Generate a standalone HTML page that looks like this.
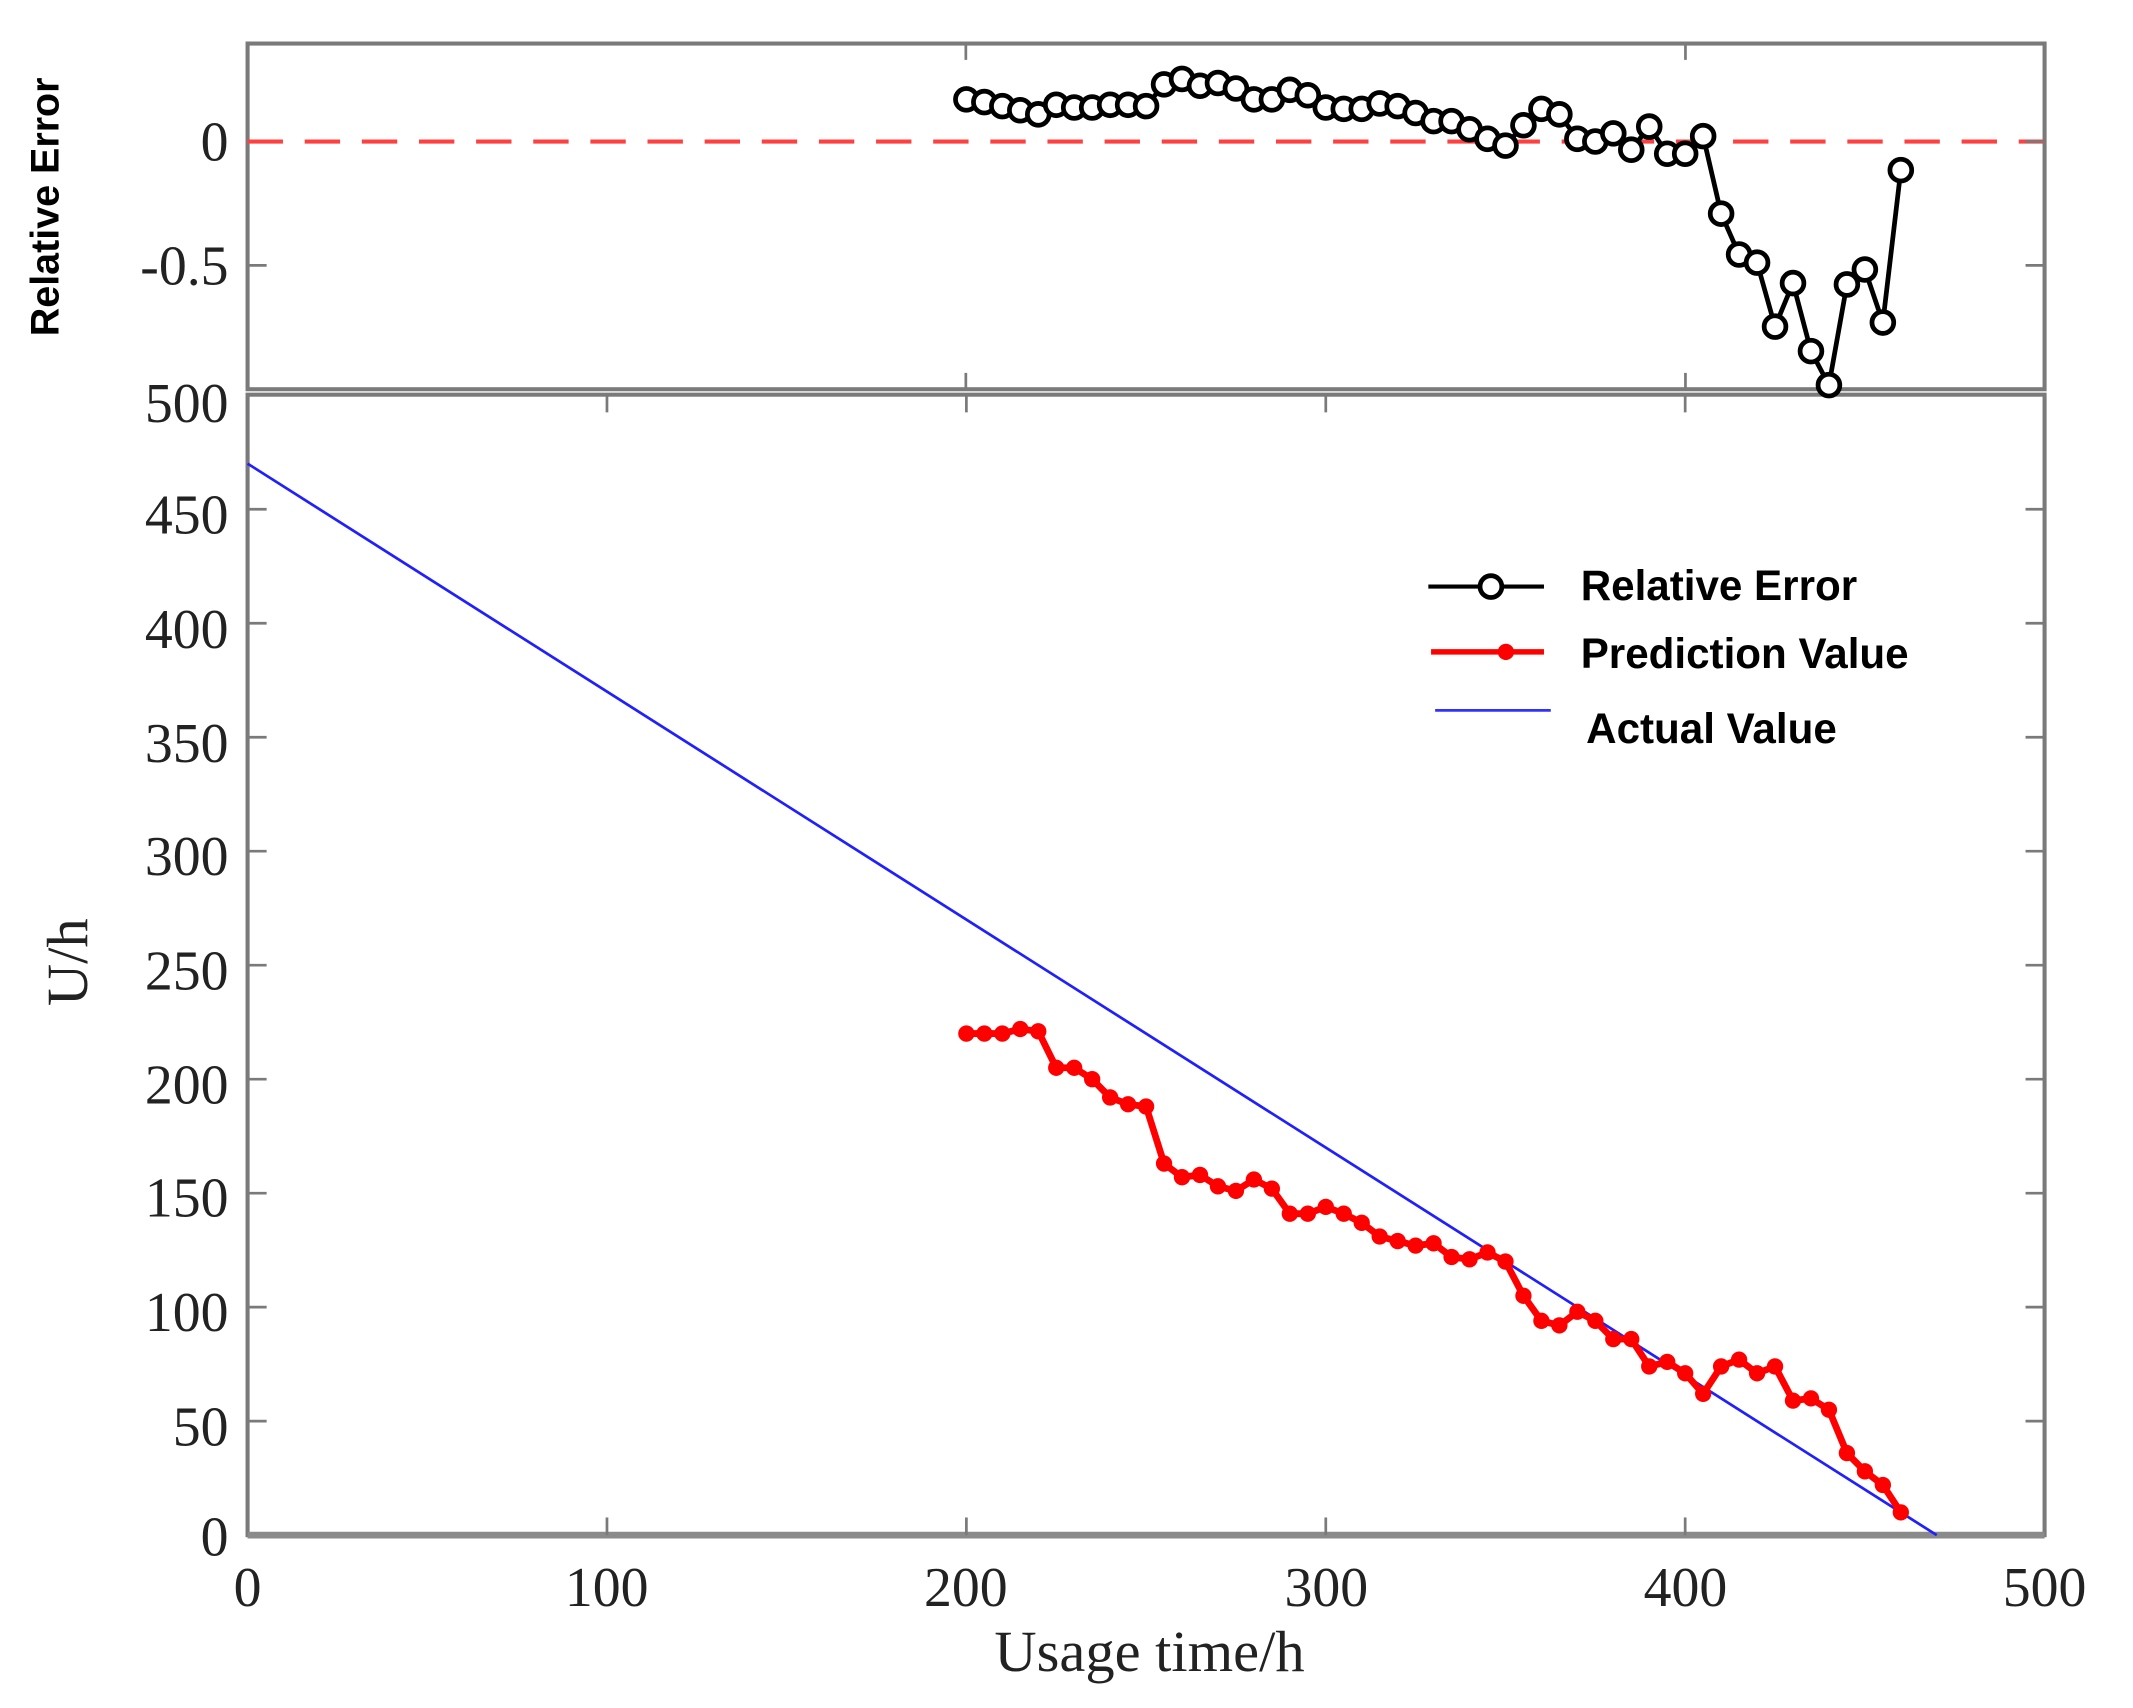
<!DOCTYPE html>
<html><head><meta charset="utf-8"><style>
html,body{margin:0;padding:0;background:#fff;}
svg{display:block;}
.t{font-family:"Liberation Serif",serif;fill:#222;}
.s{font-family:"Liberation Sans",sans-serif;font-weight:bold;fill:#000;}
</style></head><body>
<svg id="c" width="2133" height="1708" viewBox="0 0 1568 1255" preserveAspectRatio="none" xmlns="http://www.w3.org/2000/svg">
<rect width="1568" height="1255" fill="#fff"/>
<rect x="182" y="32" width="1321" height="254" fill="none" stroke="#7a7a7a" stroke-width="3"/>
<line x1="182" y1="104" x2="1503" y2="104" stroke="#ff4040" stroke-width="3" stroke-dasharray="26,16"/>
<g stroke="#7a7a7a" stroke-width="2">
<line x1="182" y1="195" x2="196" y2="195"/><line x1="1489" y1="195" x2="1503" y2="195"/>
<line x1="1489" y1="104" x2="1503" y2="104"/>
<line x1="710" y1="32" x2="710" y2="44"/><line x1="1239" y1="32" x2="1239" y2="44"/>
<line x1="710" y1="274" x2="710" y2="286"/><line x1="1239" y1="274" x2="1239" y2="286"/>
</g>
<rect x="182" y="290" width="1321" height="838" fill="none" stroke="#7a7a7a" stroke-width="3"/>
<line x1="182" y1="1128" x2="1503" y2="1128" stroke="#8a8a8a" stroke-width="5"/>
<g id="ticks" stroke="#7a7a7a" stroke-width="2"></g>
<g class="t" font-size="41" text-anchor="end">
<text x="168" y="118">0</text>
<text x="168" y="209">-0.5</text>
<text x="168" y="310">500</text>
<text x="168" y="392">450</text>
<text x="168" y="476">400</text>
<text x="168" y="560">350</text>
<text x="168" y="643">300</text>
<text x="168" y="727">250</text>
<text x="168" y="811">200</text>
<text x="168" y="894">150</text>
<text x="168" y="978">100</text>
<text x="168" y="1062">50</text>
<text x="168" y="1143">0</text>
</g>
<g class="t" font-size="41" text-anchor="middle">
<text x="182" y="1180">0</text>
<text x="446" y="1180">100</text>
<text x="710" y="1180">200</text>
<text x="975" y="1180">300</text>
<text x="1239" y="1180">400</text>
<text x="1503" y="1180">500</text>
</g>
<text class="t" font-size="43" text-anchor="middle" x="845" y="1228">Usage time/h</text>
<text class="t" font-size="43" text-anchor="middle" transform="translate(64,707) rotate(-90)">U/h</text>
<text class="s" font-size="29" text-anchor="middle" transform="translate(43,152) rotate(-90)">Relative  Error</text>
<g id="series"></g>
<line x1="1050" y1="431" x2="1135" y2="431" stroke="#000" stroke-width="3"/>
<circle cx="1096" cy="431" r="8" fill="#fff" stroke="#000" stroke-width="3.5"/>
<text class="s" font-size="31" x="1162" y="441">Relative Error</text>
<line x1="1052" y1="479" x2="1135" y2="479" stroke="#ff0000" stroke-width="4"/>
<circle cx="1107" cy="479" r="6" fill="#ff0000"/>
<text class="s" font-size="31" x="1162" y="491">Prediction Value</text>
<line x1="1055" y1="522" x2="1140" y2="522" stroke="#3030ff" stroke-width="2"/>
<text class="s" font-size="31" x="1166" y="546">Actual Value</text>
</svg>
<script>
var NS="http://www.w3.org/2000/svg";
function el(t,a,p){var e=document.createElementNS(NS,t);for(var k in a)e.setAttribute(k,a[k]);p.appendChild(e);return e;}
var tk=document.getElementById("ticks"),sr=document.getElementById("series");
for(var v=100;v<500;v+=100){var x=182+v*2.642;el("line",{x1:x,y1:290,x2:x,y2:303},tk);el("line",{x1:x,y1:1115,x2:x,y2:1128},tk);}
for(var u=50;u<500;u+=50){var y=1128-u*1.6752;el("line",{x1:182,y1:y,x2:196,y2:y},tk);el("line",{x1:1489,y1:y,x2:1503,y2:y},tk);}
function X(v){return 182+v*2.642;}
el("line",{x1:X(0),y1:1128-470*1.6752,x2:X(470),y2:1128,stroke:"#2020ff","stroke-width":2},sr);
var P=[220,220,220,222,221,205,205,200,192,189,188,163,157,158,153,151,156,152,141,141,144,141,137,131,129,127,128,122,121,124,120,105,94,92,98,94,86,86,74,76,71,62,74,77,71,74,59,60,55,36,28,22,10];
var pts=P.map(function(p,i){return X(200+5*i)+","+(1128-p*1.6752);}).join(" ");
el("polyline",{points:pts,fill:"none",stroke:"#ff0000","stroke-width":5},sr);
P.forEach(function(p,i){el("circle",{cx:X(200+5*i),cy:1128-p*1.6752,r:6,fill:"#ff0000"},sr);});
var R=[73,75,78,81,84,77,79,79,77,77,78,62,58,63,61,65,73,73,66,70,79,80,80,76,78,83,89,89,95,102,107,92,80,84,102,104,98,110,93,113,113,100,157,187,193,240,208,258,283,209,198,237,125];
var xs=[];R.forEach(function(r,i){xs.push(X(200+5*i)+","+r);});
el("polyline",{points:xs.join(" "),fill:"none",stroke:"#000","stroke-width":3.5},sr);
R.forEach(function(r,i){el("circle",{cx:X(200+5*i),cy:r,r:8,fill:"#fff",stroke:"#000","stroke-width":3.5},sr);});
</script>
</body></html>
